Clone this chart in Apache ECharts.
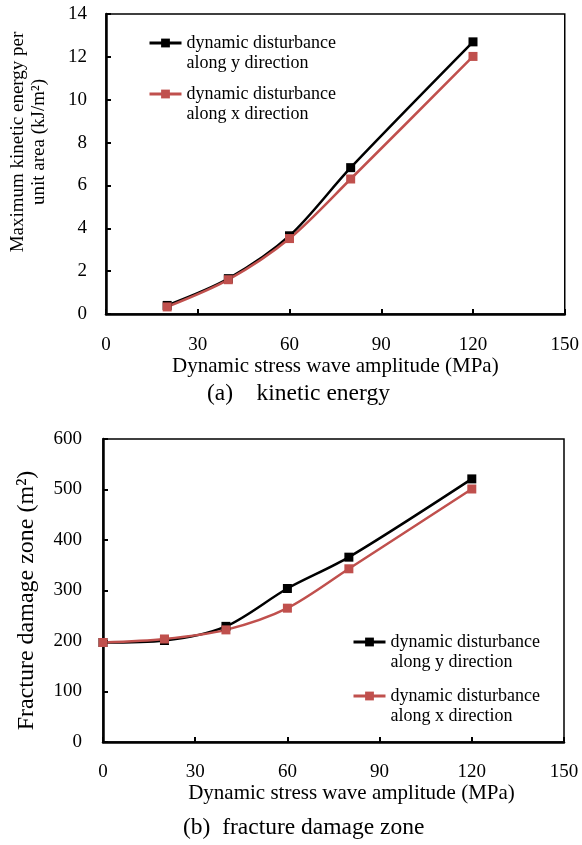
<!DOCTYPE html>
<html>
<head>
<meta charset="utf-8">
<script src="https://cdn.jsdelivr.net/npm/echarts@6/dist/echarts.min.js"></script>
<style>
html,body{margin:0;padding:0;background:#fff;}
#c{width:582px;height:845px;}
</style>
</head>
<body>
<div id="c"></div>
<script>
// ---- data ----
var nameY = 'dynamic disturbance\nalong y direction';
var nameX = 'dynamic disturbance\nalong x direction';
var xTop = [20, 40, 60, 80, 120];
var keAlongY = [0.40, 1.65, 3.65, 6.83, 12.70];
var keAlongX = [0.33, 1.60, 3.52, 6.30, 12.02];
var xBot = [0, 20, 40, 60, 80, 120];
var fdAlongY = [197, 201, 229, 304, 366, 521];
var fdAlongX = [197, 204, 222, 265, 343, 501];
var xTicks = [0, 30, 60, 90, 120, 150];

function pairs(xs, ys) { return xs.map(function (x, i) { return [x, ys[i]]; }); }

var FONT = '"Liberation Serif", "Times New Roman", serif';
var BLACK = '#000000';
var RED = '#C0504D';

function xAxisCfg(gi, gap, margin, pad) {
  return {
    gridIndex: gi, type: 'value', min: 0, max: 150, interval: 30,
    name: 'Dynamic stress wave amplitude (MPa)', nameLocation: 'middle', nameGap: gap,
    nameTextStyle: { fontFamily: FONT, fontSize: 21, color: '#000', padding: pad },
    axisLine: { show: true, onZero: false, lineStyle: { color: '#000', width: 2.5 } },
    axisTick: { show: true, inside: true, length: 5, lineStyle: { color: '#000', width: 2 } },
    axisLabel: { fontFamily: FONT, fontSize: 19, color: '#000', margin: margin },
    splitLine: { show: false }
  };
}
function yAxisCfg(gi, max, interval, name, gap, margin, fs, pad) {
  return {
    gridIndex: gi, type: 'value', min: 0, max: max, interval: interval,
    name: name, nameLocation: 'middle', nameGap: gap,
    nameTextStyle: { fontFamily: FONT, fontSize: fs, color: '#000', lineHeight: 21, padding: pad },
    axisLine: { show: true, onZero: false, lineStyle: { color: '#000', width: 2.5 } },
    axisTick: { show: true, inside: true, length: 5, lineStyle: { color: '#000', width: 2 } },
    axisLabel: { fontFamily: FONT, fontSize: 19, color: '#000', margin: margin },
    splitLine: { show: false }
  };
}
function seriesCfg(name, gi, data, color) {
  return {
    name: name, type: 'line', xAxisIndex: gi, yAxisIndex: gi,
    data: data, smooth: 0.3, symbol: 'rect', symbolSize: 9,
    lineStyle: { color: color, width: 2.5 },
    itemStyle: { color: color },
    emphasis: { disabled: true }
  };
}
function legendCfg(name, left, top) {
  return {
    data: [name], left: left, top: top, orient: 'vertical',
    itemWidth: 32, itemHeight: 11, itemGap: 0, selectedMode: false,
    lineStyle: { width: 3 },
    formatter: function (n) { return ' \n' + n; },
    textStyle: { fontFamily: FONT, fontSize: 18, color: '#000', lineHeight: 20 }
  };
}

var chart = echarts.init(document.getElementById('c'), null, { renderer: 'canvas' });
chart.setOption({
  backgroundColor: '#fff',
  animation: false,
  title: [
    { text: '(a)    kinetic energy', left: 202, top: 377,
      textStyle: { fontFamily: FONT, fontSize: 23.5, fontWeight: 'normal', color: '#000' } },
    { text: '(b)  fracture damage zone', left: 178, top: 811,
      textStyle: { fontFamily: FONT, fontSize: 23.5, fontWeight: 'normal', color: '#000' } }
  ],
  legend: [
    legendCfg(nameY, 143, 8),
    legendCfg(nameX, 143, 59),
    legendCfg(nameY, 347, 607),
    legendCfg(nameX, 347, 661)
  ],
  grid: [
    { left: 106, top: 14, width: 462, height: 300, show: true, borderColor: '#000', borderWidth: 1.5 },
    { left: 103, top: 439, width: 461, height: 303, show: true, borderColor: '#000', borderWidth: 1.5 }
  ],
  xAxis: [xAxisCfg(0, 40.5, 22, [0, 0, 0, 0]), xAxisCfg(1, 41, 21, [0, 0, 0, 36])],
  yAxis: [
    yAxisCfg(0, 14, 2, 'Maximum kinetic energy per\nunit area (kJ/m²)', 56, 19, 19, [0, 0, 0, 44]),
    yAxisCfg(1, 600, 100, 'Fracture damage zone (m²)', 66, 21, 24, [0, 20, 0, 0])
  ],
  series: [
    seriesCfg(nameY, 0, pairs(xTop, keAlongY), BLACK),
    seriesCfg(nameX, 0, pairs(xTop, keAlongX), RED),
    seriesCfg(nameY, 1, pairs(xBot, fdAlongY), BLACK),
    seriesCfg(nameX, 1, pairs(xBot, fdAlongX), RED)
  ]
});
</script>
</body>
</html>
